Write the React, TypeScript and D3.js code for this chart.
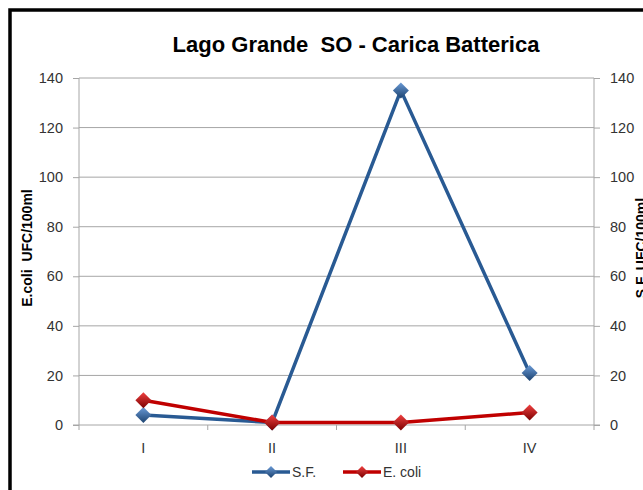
import { useEffect, useRef } from 'react'
import * as d3 from 'd3'

const categories = ['I', 'II', 'III', 'IV']
const sfValues = [4, 1, 135, 21]
const ecoliValues = [10, 1, 1, 5]
const yTicks = [0, 20, 40, 60, 80, 100, 120, 140]

const FONT = '"Liberation Sans", Arial, sans-serif'
const W = 643
const H = 490

export default function App() {
  const svgRef = useRef<SVGSVGElement>(null)

  useEffect(() => {
    if (!svgRef.current) return
    const svg = d3.select(svgRef.current)
    svg.selectAll('*').remove()

    const margin = { left: 79, right: 594, top: 78, bottom: 425 }

    const x = d3.scaleBand().domain(categories).range([margin.left, margin.right])
    const y = d3.scaleLinear().domain([0, 140]).range([margin.bottom, margin.top])

    // gradients for diamond markers
    const defs = svg.append('defs')
    const grads = [
      { id: 'gBlue', light: '#6a9ad6', dark: '#1c426f' },
      { id: 'gRed', light: '#f04040', dark: '#7a0000' },
    ]
    grads.forEach(gd => {
      const lg = defs.append('linearGradient').attr('id', gd.id)
        .attr('x1', 0).attr('y1', 0).attr('x2', 0).attr('y2', 1)
      lg.append('stop').attr('offset', '0%').attr('stop-color', gd.light)
      lg.append('stop').attr('offset', '100%').attr('stop-color', gd.dark)
    })

    svg.append('rect').attr('width', W).attr('height', H).attr('fill', '#fff')

    // outer border (chart frame extends past the crop)
    svg.append('rect')
      .attr('x', 10).attr('y', 10).attr('width', W + 20).attr('height', H + 20)
      .attr('fill', 'none').attr('stroke', '#000').attr('stroke-width', 3.5)

    // title
    svg.append('text')
      .attr('x', 356).attr('y', 52)
      .attr('text-anchor', 'middle')
      .style('white-space', 'pre')
      .attr('font-family', FONT).attr('font-weight', 'bold').attr('font-size', '22px')
      .attr('fill', '#000')
      .text('Lago Grande  SO - Carica Batterica')

    // grid lines
    svg.append('g').selectAll('line')
      .data(yTicks.filter(d => d > 0)).enter().append('line')
      .attr('x1', margin.left).attr('x2', margin.right)
      .attr('y1', d => y(d)).attr('y2', d => y(d))
      .attr('stroke', '#a6a6a6').attr('stroke-width', 1)

    // left axis
    svg.append('g').attr('transform', `translate(${margin.left},0)`)
      .call(d3.axisLeft(y).tickValues(yTicks).tickSize(6).tickPadding(10))
      .call(ax => ax.select('.domain').attr('stroke', '#a6a6a6').attr('d', `M0,${margin.top}V${margin.bottom}`))
      .call(ax => ax.selectAll('.tick line').attr('stroke', '#a6a6a6'))
      .call(ax => ax.selectAll('text').attr('fill', '#333').attr('font-size', '14.5px').attr('font-family', FONT))

    // right axis
    svg.append('g').attr('transform', `translate(${margin.right},0)`)
      .call(d3.axisRight(y).tickValues(yTicks).tickSize(6).tickPadding(10))
      .call(ax => ax.select('.domain').attr('stroke', '#a6a6a6').attr('d', `M0,${margin.top}V${margin.bottom}`))
      .call(ax => ax.selectAll('.tick line').attr('stroke', '#a6a6a6'))
      .call(ax => ax.selectAll('text').attr('fill', '#333').attr('font-size', '14.5px').attr('font-family', FONT))

    // bottom axis
    const bottom = svg.append('g').attr('transform', `translate(0,${margin.bottom})`)
    bottom.append('line')
      .attr('x1', margin.left - 6).attr('x2', margin.right + 6)
      .attr('stroke', '#a6a6a6')
    const bounds = categories.slice(1).map(c => x(c) as number)
    bottom.selectAll('line.tk').data([margin.left, ...bounds, margin.right]).enter().append('line')
      .attr('class', 'tk')
      .attr('x1', d => d).attr('x2', d => d).attr('y1', 0).attr('y2', 5)
      .attr('stroke', '#a6a6a6')
    bottom.selectAll('text').data(categories).enter().append('text')
      .attr('x', d => (x(d) as number) + x.bandwidth() / 2)
      .attr('y', 28)
      .attr('text-anchor', 'middle')
      .attr('font-family', FONT).attr('font-size', '14.5px').attr('fill', '#333')
      .text(d => d)

    // axis titles
    svg.append('text')
      .attr('transform', `translate(32,248) rotate(-90)`)
      .attr('text-anchor', 'middle')
      .style('white-space', 'pre')
      .attr('font-family', FONT).attr('font-weight', 'bold').attr('font-size', '14px')
      .text('E.coli  UFC/100ml')
    svg.append('text')
      .attr('transform', `translate(646,248) rotate(-90)`)
      .attr('text-anchor', 'middle')
      .attr('font-family', FONT).attr('font-weight', 'bold').attr('font-size', '14px')
      .text('S.F. UFC/100ml')

    const series = [
      { name: 'S.F.', values: sfValues, color: '#295a93', grad: 'gBlue' },
      { name: 'E. coli', values: ecoliValues, color: '#c00000', grad: 'gRed' },
    ]

    const diamond = (cx: number, cy: number, r: number) =>
      `M${cx},${cy - r}L${cx + r},${cy}L${cx},${cy + r}L${cx - r},${cy}Z`

    const line = d3.line<number>()
      .x((_, i) => (x(categories[i]) as number) + x.bandwidth() / 2)
      .y(d => y(d))

    series.forEach(s => {
      svg.append('path')
        .attr('d', line(s.values))
        .attr('fill', 'none').attr('stroke', s.color).attr('stroke-width', 3.5)
        .attr('stroke-linejoin', 'round')
      s.values.forEach((v, i) => {
        svg.append('path')
          .attr('d', diamond((x(categories[i]) as number) + x.bandwidth() / 2, y(v), 8))
          .attr('fill', `url(#${s.grad})`)
      })
    })

    // legend
    const legend = [
      { name: 'S.F.', x: 252, color: '#295a93', grad: 'gBlue' },
      { name: 'E. coli', x: 343, color: '#c00000', grad: 'gRed' },
    ]
    legend.forEach(l => {
      svg.append('line')
        .attr('x1', l.x).attr('x2', l.x + 38).attr('y1', 472).attr('y2', 472)
        .attr('stroke', l.color).attr('stroke-width', 3.5)
      svg.append('path').attr('d', diamond(l.x + 19, 472, 6)).attr('fill', `url(#${l.grad})`)
      svg.append('text')
        .attr('x', l.x + 40).attr('y', 477)
        .attr('font-family', FONT).attr('font-size', '14px').attr('fill', '#333')
        .text(l.name)
    })
  }, [])

  return (
    <div style={{ position: 'absolute', left: 0, top: 0 }}>
      <svg ref={svgRef} width={W} height={H} style={{ display: 'block' }} />
    </div>
  )
}
